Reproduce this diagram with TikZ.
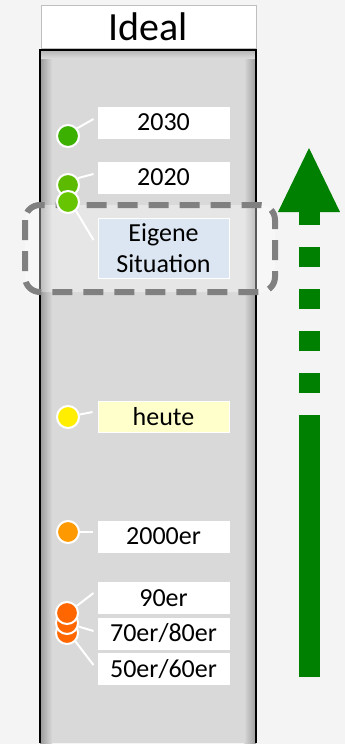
\documentclass[tikz,border=0pt]{standalone}
\usepackage{fontspec}
\setmainfont{Carlito}
\definecolor{bgc}{HTML}{F4F4F4}
\definecolor{bodyc}{HTML}{D9D9D9}
\definecolor{shadowc}{HTML}{9A9A9A}
\definecolor{dashc}{HTML}{808080}
\definecolor{g1}{HTML}{3CB000}
\definecolor{g2}{HTML}{5CBA00}
\definecolor{g3}{HTML}{66C400}
\definecolor{yel}{HTML}{FFEE00}
\definecolor{ora}{HTML}{FF9900}
\definecolor{red1}{HTML}{FF6600}
\definecolor{bluel}{HTML}{DCE6F2}
\definecolor{yell}{HTML}{FFFFCC}
\definecolor{arrg}{HTML}{008000}
\begin{document}
\begin{tikzpicture}[x=1pt,y=-1pt,
  dot/.style={circle,draw=white,line width=2pt,minimum size=22pt,inner sep=0pt},
  lab/.style={rectangle,fill=white,draw=white,line width=1pt,minimum width=131pt,minimum height=31pt,inner sep=0pt,font=\fontsize{26}{31}\selectfont},
  conn/.style={draw=white,line width=2pt},
]
\useasboundingbox (0,0) rectangle (345,744);
\fill[bgc] (0,0) rectangle (345,744);
% column body
\fill[bodyc] (40,50) rectangle (256,743);
\shade[left color=shadowc,right color=bodyc] (40,50) rectangle (52,743);
\shade[left color=bodyc,right color=shadowc] (244,50) rectangle (256,743);
\shade[top color=shadowc!60!bodyc,bottom color=bodyc] (40,50) rectangle (256,58);
\draw[black,line width=1.5pt] (40,743) -- (40,50) -- (256,50) -- (256,743);
% header
\node[draw=black!25,line width=1pt,fill=white,minimum width=215pt,minimum height=43pt,inner sep=0pt] (head) at (148.5,26.5) {};
\node[anchor=base,font=\fontsize{40}{44}\selectfont,inner sep=0pt] (headtxt) at (148.5,40) {Ideal};
% dashed frame
\draw[dashc,line width=6pt,dash pattern=on 20pt off 11pt,rounded corners=15pt,fill=white,fill opacity=0.35,draw opacity=1] (25,205) rectangle (275,292);
% labels
\node[lab] (l2030) at (163.5,122.5) {2030};
\node[lab] (l2020) at (163.5,177.5) {2020};
\node[lab,fill=bluel,minimum height=60pt,align=center] (leig) at (163.5,248) {Eigene\\Situation};
\node[lab,fill=yell] (lheute) at (163.5,416.5) {heute};
\node[lab] (l2000) at (163.5,536.5) {2000er};
\node[lab] (l90) at (163.5,598) {90er};
\node[lab] (l70) at (163.5,633.5) {70er/80er};
\node[lab] (l50) at (163.5,669) {50er/60er};
% dots
\node[dot,fill=g1] (d2030) at (68,136) {};
\node[dot,fill=g2] (d2020) at (68,185) {};
\node[dot,fill=g3] (deig) at (68,202) {};
\node[dot,fill=yel] (dheute) at (68,417) {};
\node[dot,fill=ora] (d2000) at (68,532) {};
\node[dot,fill=red1] (d50) at (67,633) {};
\node[dot,fill=red1] (d70) at (67,623) {};
\node[dot,fill=red1] (d90) at (67,613) {};
% connectors
\draw[conn] (d2030.40) -- ([shift={(-4,-3.5)}]l2030.west);
\draw[conn] (d2020.35) -- ([shift={(-4,-3.5)}]l2020.west);
\draw[conn] (deig.-48) -- ([shift={(-4,-8)}]leig.west);
\draw[conn] (dheute.12) -- ([shift={(-5,-4.5)}]lheute.west);
\draw[conn] (d2000.0) -- ([shift={(-5,-4.5)}]l2000.west);
\draw[conn] (d90.36) -- ([shift={(-4,-5)}]l90.west);
\draw[conn] (d70.-17) -- ([shift={(-4,-2.5)}]l70.west);
\draw[conn] (d50.-45) -- ([shift={(-4,-4)}]l50.west);
% green arrow
\fill[arrg] (299,415) rectangle (320,677);
\draw[arrg,line width=21pt,dash pattern=on 20pt off 22pt] (309.5,393) -- (309.5,210);
\fill[arrg] (278,212) -- (309,148) -- (340,212) -- cycle;
\end{tikzpicture}
\end{document}
